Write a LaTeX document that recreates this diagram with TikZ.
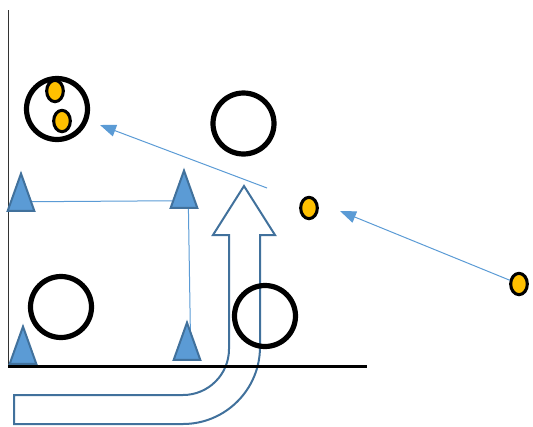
\documentclass[tikz,border=0pt]{standalone}
\usepackage{tikz}
\usetikzlibrary{shapes,arrows,arrows.meta,calc,backgrounds}
\definecolor{fillblue}{HTML}{5B9BD5}
\definecolor{edgeblue}{HTML}{41719C}
\definecolor{dotgold}{HTML}{FFC000}

\begin{document}
\begin{tikzpicture}[% pixel grid of the sketch, y running down
			x=0.75pt,y=-0.75pt,
			every node/.style={inner sep=0pt},
			ring/.style={circle,draw=black,line width=3.9pt,minimum size=45.75pt},
			dot/.style={ellipse,draw=black,line width=2.3pt,fill=dotgold,
				minimum width=12.5pt,minimum height=16pt},
			cone/.style={isosceles triangle,isosceles triangle stretches,
				shape border rotate=90,draw=edgeblue,line width=1.5pt,fill=fillblue,
				minimum width=20pt,minimum height=28pt,anchor=apex},
			link/.style={draw=fillblue,line width=0.75pt},
			flow/.style={link,-{Triangle[length=12pt,width=9pt]}}
		]
		\useasboundingbox (0,0) rectangle (533,426);
		% big bent arrow (outline only)
		\draw[edgeblue,line width=1.5pt,line join=miter]
			(14,395) -- (183,395) .. controls (208.4,395) and (229,374.4) .. (229,349)
			-- (229,235) -- (213,235) -- (244,186) -- (275,235) -- (260,235) -- (260,347)
			.. controls (260,389.5) and (225.5,424) .. (183,424) -- (14,424) -- cycle;
		% axes
		\coordinate (O) at (8,366);
		\coordinate (Y) at (8,10);
		\coordinate (X) at (367,366);
		\draw[black!80,line width=0.75pt] (O) -- (Y);
		\draw[black,line width=2.25pt] (O) -- (X);
		% circles
		\node[ring](C1) at (57,109) {};
		\node[ring](C2) at (243.5,123.5) {};
		\node[ring](C3) at (61,307) {};
		\node[ring](C4) at (265,316) {};
		% small dots
		\node[dot](E1) at (55,91) {};
		\node[dot](E2) at (62,121) {};
		\node[dot](E3) at (309,208) {};
		\node[dot](E4) at (519,284) {};
		% triangles
		\node[cone](T1) at (21,171) {};
		\node[cone](T2) at (184,168) {};
		\node[cone](T3) at (23,324) {};
		\node[cone](T4) at (187,320) {};
		\begin{scope}[on background layer]
			\draw[link] ($(T1.apex)!0.75!(T1.right corner)$) -- ($(T2.apex)!0.8!(T2.left corner)$);
			\draw[link] ($(T2.left corner)!0.65!(T2.right corner)$) -- ($(T4.left corner)!0.63!(T4.right corner)$);
		\end{scope}
		% moves
		\coordinate (A1) at (340,211);
		\coordinate (P1) at (267,188);
		\coordinate (P2) at (100,125);
		\draw[flow] (E4) -- (A1);
		\draw[flow] (P1) -- (P2);
	\end{tikzpicture}
\end{document}
